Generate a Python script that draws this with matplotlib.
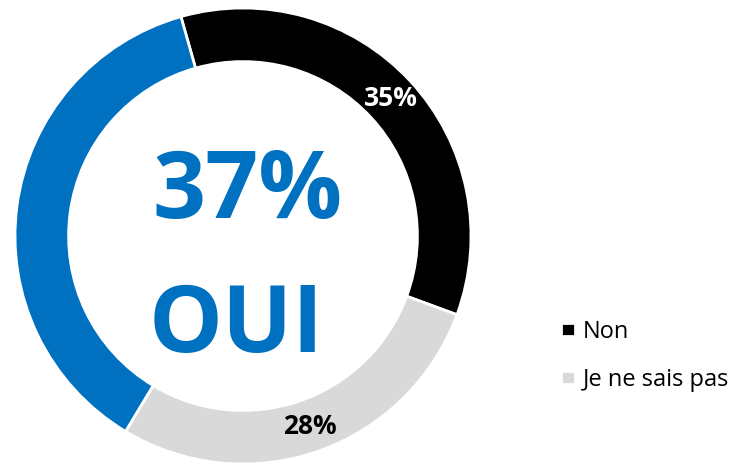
import numpy as np
import matplotlib
matplotlib.use("Agg")
import matplotlib.pyplot as plt

# survey answers, clockwise order as in the chart
labels = ["Non", "Je ne sais pas", "Oui"]
values = [35, 28, 37]
colors = ["#000000", "#D9D9D9", "#0070C0"]
label_colors = ["white", "black", None]
legend_labels = ["Non", "Je ne sais pas"]
center_pct = "37%"
center_word = "OUI"

plt.rcParams["font.family"] = ["Open Sans", "DejaVu Sans"]

fig = plt.figure(figsize=(7.33, 4.67), dpi=100)
ax = fig.add_axes([15 / 733, 3 / 467, 456 / 733, 456 / 467])

wedges, _ = ax.pie(values, colors=colors, startangle=105.8, counterclock=False,
                   radius=1.0,
                   wedgeprops=dict(width=0.235, edgecolor="white", linewidth=2))
ax.set_xlim(-1, 1)
ax.set_ylim(-1, 1)
ax.set_aspect("equal")
ax.axis("off")

# percentage labels in the ring (not for Oui)
for w, v, c in zip(wedges, values, label_colors):
    if c is None:
        continue
    mid = np.deg2rad((w.theta1 + w.theta2) / 2)
    r = 0.885
    ax.text(r * np.cos(mid), r * np.sin(mid), f"{v}%", color=c,
            fontsize=19, fontweight="bold", ha="center", va="center")

ax.text(0.02, 0.185, center_pct, color="#0070C0", fontsize=67,
        fontweight="bold", ha="center", va="center")
ax.text(-0.03, -0.51, center_word, color="#0070C0", fontsize=67,
        fontweight="bold", ha="center", va="baseline")

fig.legend(wedges[:2], legend_labels, loc="center left",
           bbox_to_anchor=(540 / 733, 1 - 356 / 467), frameon=False,
           fontsize=17, handlelength=0.6, handleheight=0.47,
           handletextpad=0.3, labelspacing=1.0)

fig.savefig("out.png", dpi=100)
